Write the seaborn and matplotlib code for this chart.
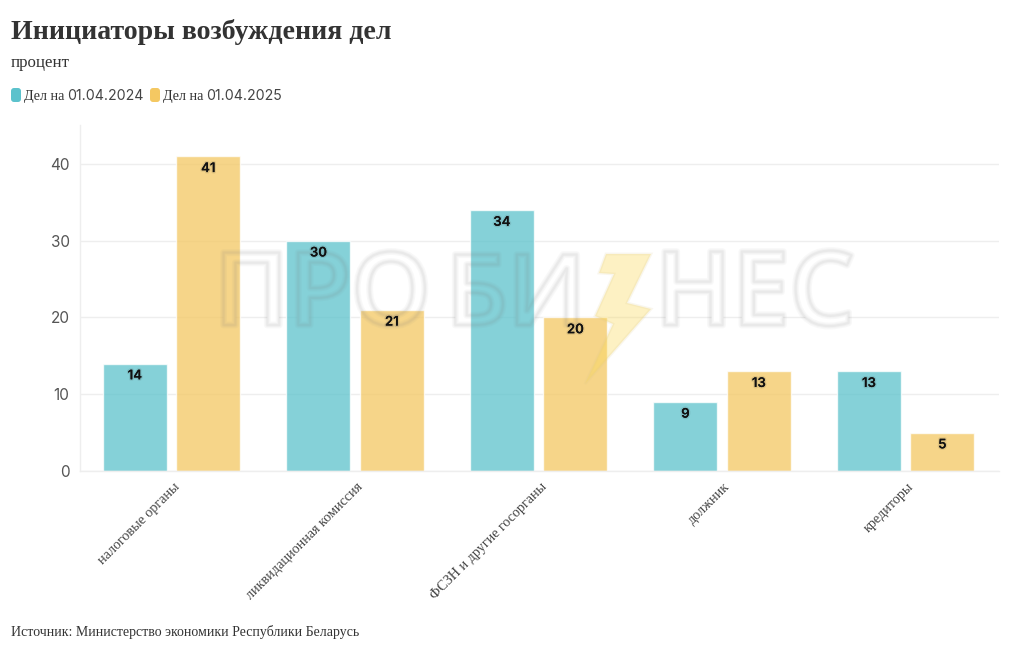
import matplotlib
matplotlib.use("Agg")
import matplotlib.patheffects as pe
import matplotlib.pyplot as plt
import pandas as pd
import seaborn as sns
from matplotlib.patches import FancyBboxPatch, Polygon

categories = ["налоговые органы", "ликвидационная комиссия", "ФСЗН и другие госорганы", "должник", "кредиторы"]
values_2024 = [14, 30, 34, 9, 13]
values_2025 = [41, 21, 20, 13, 5]
series_names = ["Дел на 01.04.2024", "Дел на 01.04.2025"]
y_ticks = [0, 10, 20, 30, 40]

TEAL = "#5cc2cc"
YELLOW = "#f4c862"
W, H = 1020, 650

sns.set_theme(style="white")
plt.rcParams["font.family"] = ["Liberation Serif"]

df = pd.DataFrame({
    "category": categories * 2,
    "value": values_2024 + values_2025,
    "series": [series_names[0]] * 5 + [series_names[1]] * 5,
})

fig = plt.figure(figsize=(W / 100, H / 100), dpi=100)
ax = fig.add_axes([80 / W, 1 - 471 / H, 919 / W, 346 / H])

sns.barplot(data=df, x="category", y="value", hue="series", palette=[TEAL, YELLOW],
            width=0.8, gap=0.13, alpha=0.75, saturation=1, legend=False, ax=ax, zorder=2)

ax.set_xlim(-0.499, 4.509)
ax.set_ylim(0, 45.08)
ax.set_xlabel("")
ax.set_ylabel("")
ax.set_yticks(y_ticks)
ax.grid(axis="y", color="#eeeeee", linewidth=1)
ax.set_axisbelow(True)
for side in ["top", "right"]:
    ax.spines[side].set_visible(False)
for side in ["left", "bottom"]:
    ax.spines[side].set_color("#eeeeee")
    ax.spines[side].set_linewidth(1)

ax.tick_params(axis="y", length=0, pad=7.5)
ax.tick_params(axis="x", length=3, color="#e8e8e8", pad=4)
for lab in ax.get_yticklabels():
    lab.set_family("Inter")
    lab.set_fontsize(11)
    lab.set_color("#555555")
ax.set_xticks(range(5))
ax.set_xticklabels(categories, rotation=45, ha="right", rotation_mode="anchor",
                   fontsize=10.15, color="#444444")
# подписи на пару пикселей правее, как в оригинале
shift = matplotlib.transforms.ScaledTranslation(1.5 / 100, 0, fig.dpi_scale_trans)
for lab in ax.get_xticklabels():
    lab.set_transform(lab.get_transform() + shift)

for cont in ax.containers:
    labels = ax.bar_label(cont, padding=-13.5, fontsize=9.5, family="Inter", fontweight="semibold",
                          color="#111111", zorder=6)
    for lab in labels:
        lab.set_path_effects([pe.withStroke(linewidth=2, foreground=(0.2, 0.2, 0.2, 0.12))])

# заголовки
fig.text(11 / W, 1 - 39 / H, "Инициаторы возбуждения дел", fontsize=20.08, fontweight="bold", color="#333333")
fig.text(11 / W, 1 - 67 / H, "процент", fontsize=12.2, color="#333333")
fig.text(11 / W, 1 - 636 / H, "Источник: Министерство экономики Республики Беларусь", fontsize=10.0, color="#333333")

# легенда
for x0, color, name in zip([11, 150], [TEAL, YELLOW], series_names):
    fig.add_artist(FancyBboxPatch((x0, H - 102), 10, 14, boxstyle="round,pad=0,rounding_size=3",
                                  transform=None, facecolor=color, edgecolor="none"))
    word, date = name.rsplit(" ", 1)
    fig.text((x0 + 13) / W, 1 - 100 / H, word, fontsize=10.2, color="#333333")
    fig.text((x0 + 56.5) / W, 1 - 100 / H, date, fontsize=10.15, family="Inter", color="#444444")

# водяной знак: белая заливка под столбцами, серый контур поверх
for x0, word, size in [(214, "ПРО", 73), (446, "БИ", 71), (655, "НЕС", 74)]:
    ax.text(x0 / W, 1 - 325 / H, word, transform=fig.transFigure, fontsize=size, family="Open Sans",
            fontweight="semibold", color="white", zorder=1.5)
    ax.text(x0 / W, 1 - 325 / H, word, transform=fig.transFigure, fontsize=size, family="Open Sans",
            fontweight="semibold", color=(1, 1, 1, 0), zorder=3,
            path_effects=[pe.Stroke(linewidth=5, foreground=(0.5, 0.5, 0.5, 0.05)),
                          pe.Stroke(linewidth=3, foreground=(0.5, 0.5, 0.5, 0.05)),
                          pe.Stroke(linewidth=1.5, foreground=(0.5, 0.5, 0.5, 0.07))])

bolt = [(606, 254), (651, 254), (627, 303), (651, 309), (585, 384), (613, 324), (595, 316), (614, 274), (599, 273)]
ax.add_patch(Polygon([(x, H - y) for x, y in bolt], closed=True, transform=None, clip_on=False,
                     facecolor=(0.98, 0.85, 0.35, 0.36), edgecolor=(0.85, 0.78, 0.55, 0.15), linewidth=2, zorder=3))

fig.savefig("out.png", dpi=100)
